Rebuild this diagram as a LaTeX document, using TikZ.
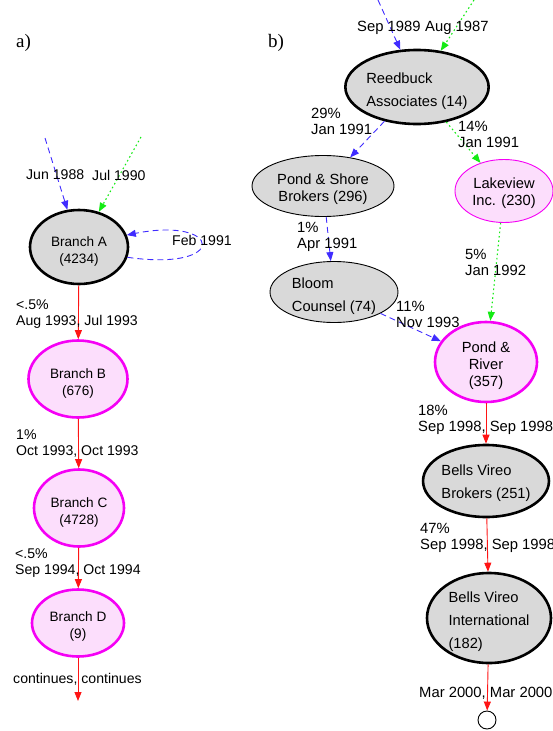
\documentclass[tikz,border=0pt]{standalone}
\usepackage{fontspec}
\setmainfont{Liberation Sans}
\newfontfamily\panelfont{Liberation Serif}
\usetikzlibrary{arrows.meta,shapes.geometric}
\definecolor{eblue}{RGB}{64,44,255}
\definecolor{egreen}{RGB}{20,235,20}
\definecolor{ered}{RGB}{255,20,20}
\definecolor{nodegray}{RGB}{217,217,217}
\definecolor{mag}{RGB}{245,0,245}
\definecolor{pinkfill}{RGB}{252,222,252}
\newcommand\topstrut[1]{\rule{0pt}{#1}}
\begin{document}
\begin{tikzpicture}[x=1pt,y=-1pt,
  tip/.style={-{Triangle[length=9pt,width=7pt]}},
  base/.style={ellipse, inner xsep=0pt, inner ysep=-8pt, align=center},
  graythick/.style={base, draw=black, fill=nodegray, line width=2.6pt},
  graythin/.style={base, draw=black, fill=nodegray, line width=0.9pt},
  pinkthick/.style={base, draw=mag, fill=pinkfill, line width=2.6pt},
  pinkthin/.style={base, draw=mag, fill=pinkfill, line width=0.9pt},
  ntxt/.style={font=\fontsize{13.6}{17}\selectfont},
  ntxtb/.style={font=\fontsize{14.7}{17}\selectfont},
  ntxtwide/.style={font=\fontsize{14.7}{23}\selectfont, align=left},
  lbl/.style={font=\fontsize{14.1}{16}\selectfont, align=left, anchor=west, inner sep=0pt},
  lblb/.style={font=\fontsize{14.8}{16}\selectfont, align=left, anchor=west, inner sep=0pt},
  bluedash/.style={draw=eblue, line width=0.9pt, dash pattern=on 6pt off 4pt, tip},
  greendot/.style={draw=egreen, line width=1.1pt, dash pattern=on 1.6pt off 2.8pt, tip},
  redline/.style={draw=ered, line width=0.9pt, tip},
  panel/.style={font=\panelfont\fontsize{19}{20}\selectfont, inner sep=0pt, anchor=west}
]
\useasboundingbox (0,0) rectangle (552,731);

% panel letters
\node[panel] (pa) at (16,43) {a)};
\node[panel] (pb) at (268,43) {b)};

% ---------- panel a ----------
\node[graythick, ntxt, minimum width=98pt, minimum height=74pt] (A) at (79,247) {\topstrut{18pt}Branch A\\(4234)};
\node[pinkthick, ntxt, minimum width=99pt, minimum height=77pt] (B) at (78,379) {\topstrut{18pt}Branch B\\(676)};
\node[pinkthick, ntxt, minimum width=90pt, minimum height=77pt] (C) at (79,508) {\topstrut{18pt}Branch C\\(4728)};
\node[pinkthick, ntxt, minimum width=92pt, minimum height=67pt] (D) at (78,623) {\topstrut{17pt}Branch D\\(9)};

\coordinate (ainb) at (45,138);
\coordinate (aing) at (141,137);
\coordinate (dend) at (78,701);

\draw[bluedash] (ainb) -- (A);
\draw[greendot] (aing) -- (A);
\draw[bluedash] (A.-12) .. controls (230,272) and (222,216) .. (A.14);
\draw[redline] (A) -- (B);
\draw[redline] (B) -- (C);
\draw[redline] (C) -- (D);
\draw[redline] (D) -- (dend);

\node[lbl] (ljun) at (26,175) {Jun 1988};
\node[lbl] (ljul) at (92,175) {Jul 1990};
\node[lbl] (lfeb) at (172,240) {Feb 1991};
\node[lbl] (lab) at (16,314) {<.5\%\\Aug 1993, Jul 1993};
\node[lbl] (lbc) at (16,444) {1\%\\Oct 1993, Oct 1993};
\node[lbl] (lcd) at (15,563) {<.5\%\\Sep 1994, Oct 1994};
\node[lbl] (ld) at (13,679) {continues, continues};

% ---------- panel b ----------
\node[graythick, ntxtwide, minimum width=141pt, minimum height=74pt] (R) at (417,87) {\topstrut{19pt}Reedbuck\\Associates (14)};
\node[graythin, ntxtb, minimum width=142pt, minimum height=61pt] (PS) at (323,186) {\topstrut{17pt}Pond \& Shore\\Brokers (296)};
\node[pinkthin, ntxtb, minimum width=98pt, minimum height=63pt] (LV) at (504,191) {\topstrut{16pt}Lakeview\\Inc. (230)};
\node[graythin, ntxtwide, minimum width=128pt, minimum height=61pt] (BC) at (334,292) {\topstrut{19pt}Bloom\\Counsel (74)};
\node[pinkthick, ntxtb, minimum width=102pt, minimum height=80pt] (PR) at (486,362) {\topstrut{18pt}Pond \&\\River\\(357)};
\node[graythick, ntxtwide, minimum width=125pt, minimum height=72pt] (BVB) at (486,481) {\topstrut{16pt}Bells Vireo\\Brokers (251)};
\node[graythick, ntxtwide, minimum width=124pt, minimum height=90pt] (BVI) at (489,618) {\topstrut{19pt}Bells Vireo\\International\\(182)};
\node[circle, draw=black, fill=white, line width=0.9pt, minimum size=18pt, inner sep=0pt] (END) at (487,720) {};

\coordinate (binb) at (378,0);
\coordinate (bing) at (474,0);

\draw[bluedash] (binb) -- (R);
\draw[greendot] (bing) -- (R);
\draw[bluedash] (R) -- (PS);
\draw[greendot] (R) -- (LV);
\draw[bluedash] (PS) -- (BC);
\draw[greendot] (LV) -- (PR);
\draw[bluedash] (BC) -- (PR);
\draw[redline] (PR) -- (BVB);
\draw[redline] (BVB) -- (BVI);
\draw[redline] (BVI) -- (END);

\node[lblb] (lsep) at (357,28) {Sep 1989};
\node[lblb] (laug) at (425,28) {Aug 1987};
\node[lblb] (lrps) at (311,121) {29\%\\Jan 1991};
\node[lblb] (lrlv) at (458,134) {14\%\\Jan 1991};
\node[lblb] (lpsbc) at (297,237) {1\%\\Apr 1991};
\node[lblb] (llvpr) at (465,262) {5\%\\Jan 1992};
\node[lblb] (lbcpr) at (396,314) {11\%\\Nov 1993};
\node[lblb] (lprbv) at (418,420) {18\%\\Sep 1998, Sep 1998};
\node[lblb] (lbvbi) at (420,538) {47\%\\Sep 1998, Sep 1998};
\node[lblb] (lbiend) at (419,693) {Mar 2000, Mar 2000};
\end{tikzpicture}
\end{document}
